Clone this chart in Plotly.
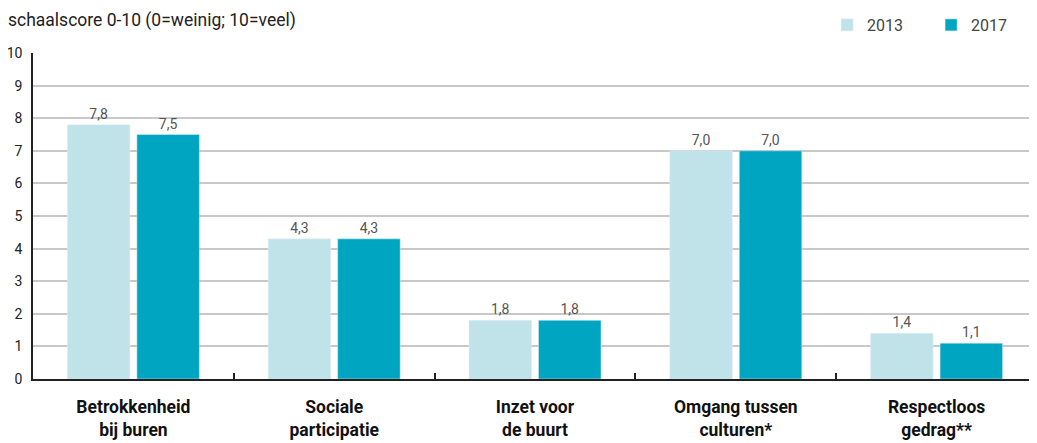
import plotly.graph_objects as go

categories = ["<b>Betrokkenheid</b><br><b>bij buren</b>",
              "<b>Sociale</b><br><b>participatie</b>",
              "<b>Inzet voor</b><br><b>de buurt</b>",
              "<b>Omgang tussen</b><br><b>culturen*</b>",
              "<b>Respectloos</b><br><b>gedrag**</b>"]
values_2013 = [7.8, 4.3, 1.8, 7.0, 1.4]
values_2017 = [7.5, 4.3, 1.8, 7.0, 1.1]
y_ticks = list(range(0, 11))

FONT = "Roboto"

fig = go.Figure()
fig.add_bar(x=categories, y=values_2013, name="2013", marker_color="#c0e3e9",
            texttemplate="%{y:.1f}", textposition="outside",
            textfont=dict(size=14, color="#555555", family=FONT), cliponaxis=False)
fig.add_bar(x=categories, y=values_2017, name="2017", marker_color="#00a6c1",
            texttemplate="%{y:.1f}", textposition="outside",
            textfont=dict(size=14, color="#555555", family=FONT), cliponaxis=False)

fig.update_layout(
    width=1029, height=435,
    margin=dict(l=25, r=0, t=45, b=64, autoexpand=False),
    paper_bgcolor="white", plot_bgcolor="white",
    separators=",.",
    barmode="group", bargap=0.308, bargroupgap=0.1,
    font=dict(family=FONT, size=14, color="#222222"),
    title=dict(text="schaalscore 0-10 (0=weinig; 10=veel)", x=0, xref="container",
               xanchor="left", y=1, yref="container", yanchor="top", pad=dict(t=6, l=0),
               font=dict(family=FONT, size=17.5, color="#222222")),
    legend=dict(orientation="h", x=0.796, xanchor="left", xref="container",
                y=1.0, yref="container", yanchor="top",
                font=dict(size=16, color="#444444", family=FONT),
                itemwidth=30, traceorder="normal", entrywidth=59),
    showlegend=True,
)
fig.update_xaxes(showline=True, linecolor="#222222", linewidth=2,
                 ticks="inside", tickson="boundaries", ticklen=6, tickcolor="#222222",
                 tickwidth=1.5, ticklabelstandoff=11,
                 tickfont=dict(size=17.5, color="#111111", family=FONT))
fig.update_yaxes(range=[0, 10], tickvals=y_ticks, showgrid=True, gridcolor="#c8c8c8",
                 gridwidth=1.5, showline=True, linecolor="#222222", linewidth=1.5,
                 ticks="", zeroline=False, ticklabelstandoff=6,
                 tickfont=dict(size=14, color="#222222", family=FONT))

fig.write_html("out.html")
